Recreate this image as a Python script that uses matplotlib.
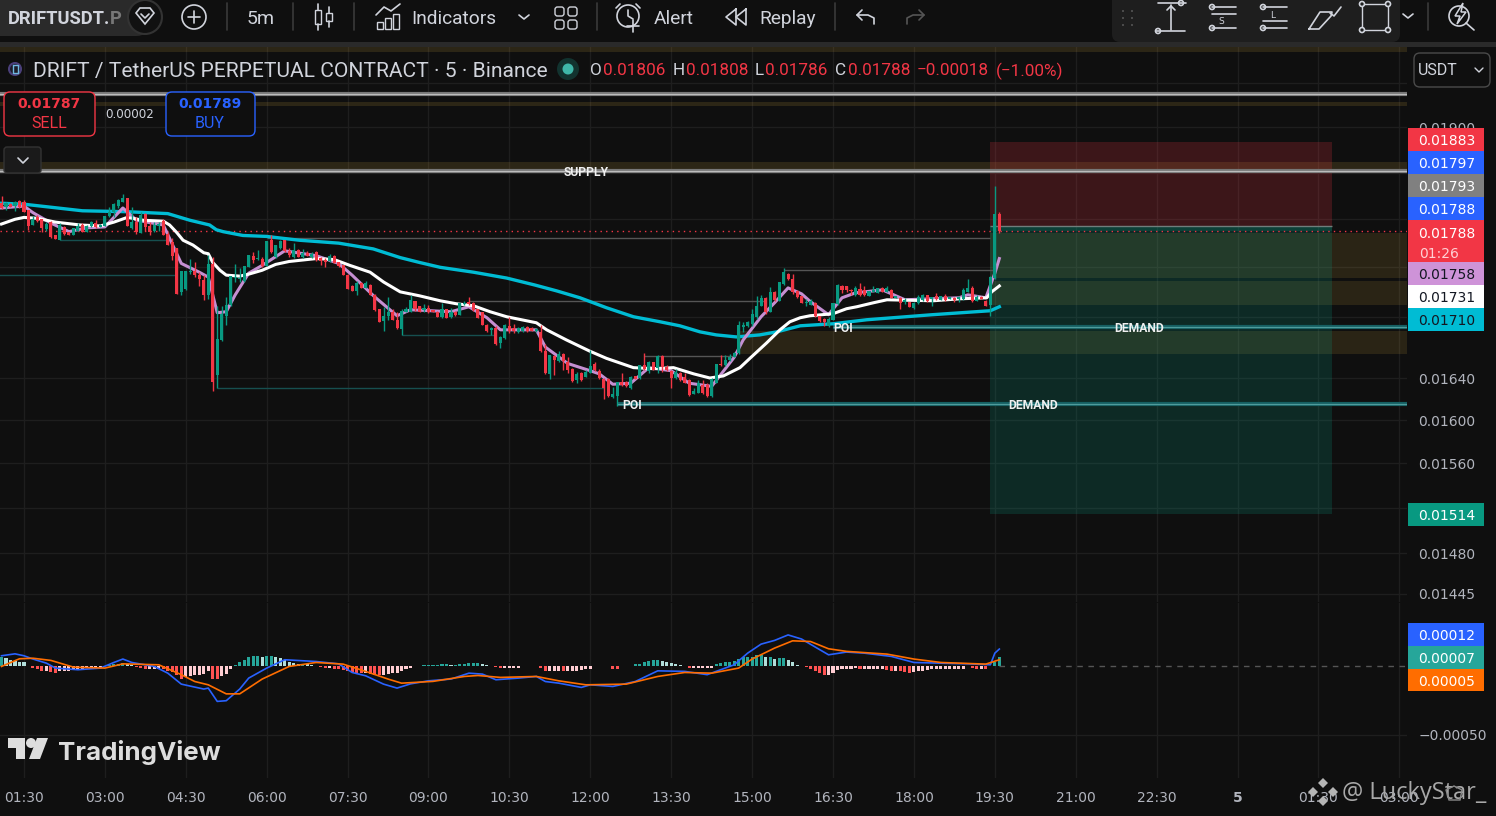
# 5m DRIFTUSDT.P chart screenshot, price pane + MACD pane
import numpy as np
import matplotlib
matplotlib.use('Agg')
import matplotlib.pyplot as plt
from matplotlib.patches import FancyBboxPatch, Rectangle, Circle, Polygon
from matplotlib.ticker import NullLocator

# candles, in units of 0.00001 USDT, first bar 01:05, one bar per 5 minutes
opens = [1817,1813,1816,1814,1819,1818,1810,1794,1802,1800,1790,1797,1783,1778,1792,1787,1784,1788,1794,1787,
         1793,1796,1792,1793,1803,1808,1814,1818,1823,1791,1797,1786,1806,1793,1788,1793,1798,1785,1776,1770,
         1725,1728,1745,1746,1742,1737,1722,1753,1643,1677,1701,1712,1739,1738,1736,1750,1762,1759,1759,1751,
         1778,1761,1770,1778,1767,1761,1768,1761,1765,1761,1766,1760,1758,1756,1762,1755,1752,1742,1731,1726,
         1734,1729,1732,1722,1708,1696,1701,1705,1697,1688,1705,1705,1716,1711,1707,1709,1707,1705,1700,1708,
         1700,1705,1702,1713,1715,1714,1708,1705,1692,1687,1689,1674,1679,1691,1689,1685,1686,1690,1689,1686,
         1685,1666,1644,1661,1656,1663,1655,1649,1638,1645,1641,1645,1654,1647,1639,1639,1622,1623,1636,1636,
         1630,1642,1640,1653,1647,1655,1650,1661,1651,1647,1640,1645,1641,1638,1625,1626,1633,1633,1623,1635,
         1654,1653,1657,1660,1664,1690,1691,1693,1700,1711,1719,1705,1725,1716,1733,1743,1738,1726,1721,1714,
         1712,1714,1701,1698,1691,1697,1713,1731,1731,1727,1722,1728,1727,1721,1725,1724,1729,1725,1727,1719,
         1719,1715,1715,1709,1714,1717,1722,1718,1721,1717,1721,1718,1719,1718,1718,1725,1729,1716,1720,1716,
         1712,1739,1806]
highs = [1825,1818,1817,1819,1820,1820,1810,1803,1805,1800,1797,1798,1784,1796,1793,1787,1791,1796,1796,1794,
         1798,1799,1795,1804,1813,1817,1822,1827,1823,1813,1802,1808,1807,1797,1797,1797,1800,1787,1780,1770,
         1746,1746,1759,1755,1745,1742,1763,1761,1711,1711,1720,1741,1753,1749,1751,1763,1766,1768,1761,1777,
         1783,1773,1778,1778,1770,1775,1769,1769,1767,1766,1767,1761,1760,1764,1763,1755,1752,1743,1732,1736,
         1735,1736,1733,1723,1708,1710,1720,1708,1705,1708,1710,1722,1716,1711,1713,1712,1707,1706,1714,1708,
         1709,1706,1714,1716,1720,1715,1708,1705,1693,1690,1691,1681,1693,1700,1693,1690,1691,1691,1690,1689,
         1692,1673,1662,1662,1666,1664,1660,1650,1646,1646,1648,1667,1655,1649,1640,1640,1631,1636,1645,1637,
         1642,1642,1653,1664,1656,1655,1662,1662,1653,1648,1649,1646,1645,1639,1630,1638,1638,1635,1640,1654,
         1662,1662,1663,1665,1696,1695,1696,1708,1721,1722,1720,1730,1726,1735,1749,1744,1743,1727,1721,1718,
         1718,1715,1701,1699,1700,1714,1733,1732,1731,1728,1731,1734,1731,1726,1731,1729,1730,1731,1728,1721,
         1720,1719,1715,1715,1722,1723,1722,1720,1724,1721,1723,1720,1720,1721,1729,1738,1731,1722,1721,1717,
         1741,1835,1808]
lows = [1811,1810,1813,1809,1812,1808,1789,1794,1797,1787,1788,1780,1779,1778,1783,1783,1784,1788,1787,1787,
        1792,1791,1792,1793,1802,1802,1812,1818,1793,1790,1785,1786,1788,1783,1787,1788,1783,1773,1758,1723,
        1722,1727,1743,1740,1731,1717,1718,1628,1630,1676,1692,1711,1735,1735,1735,1750,1754,1758,1750,1751,
        1765,1760,1769,1766,1761,1760,1761,1760,1762,1760,1756,1752,1750,1755,1754,1750,1742,1728,1726,1722,
        1729,1729,1722,1706,1695,1686,1697,1697,1688,1682,1705,1705,1706,1705,1705,1704,1705,1700,1699,1699,
        1699,1701,1702,1712,1712,1706,1699,1692,1685,1682,1672,1669,1678,1684,1684,1684,1685,1685,1686,1685,
        1665,1644,1639,1643,1655,1648,1645,1636,1635,1637,1641,1645,1647,1639,1620,1622,1621,1613,1632,1631,
        1629,1639,1639,1648,1645,1648,1645,1646,1647,1630,1639,1637,1635,1623,1625,1626,1625,1622,1622,1635,
        1652,1652,1656,1660,1663,1685,1690,1691,1698,1711,1703,1705,1716,1716,1732,1737,1723,1719,1714,1711,
        1712,1700,1695,1691,1690,1697,1712,1724,1725,1722,1721,1721,1721,1721,1725,1724,1725,1725,1719,1719,
        1708,1713,1710,1708,1713,1716,1715,1711,1717,1717,1716,1718,1715,1715,1717,1725,1715,1716,1718,1711,
        1701,1738,1786]
closes = [1812,1817,1813,1818,1813,1808,1793,1800,1798,1791,1795,1781,1779,1794,1785,1783,1791,1793,1787,1793,
          1797,1792,1794,1803,1808,1816,1821,1823,1793,1797,1787,1805,1792,1787,1794,1795,1784,1773,1762,1723,
          1746,1746,1746,1742,1738,1722,1753,1636,1678,1703,1712,1741,1740,1739,1751,1763,1758,1760,1751,1777,
          1766,1773,1777,1767,1763,1768,1761,1765,1762,1764,1758,1757,1755,1762,1754,1751,1742,1728,1726,1734,
          1729,1734,1722,1707,1695,1701,1705,1697,1689,1706,1708,1717,1708,1705,1709,1705,1705,1700,1708,1699,
          1705,1702,1714,1714,1713,1707,1699,1692,1686,1689,1673,1680,1692,1686,1686,1689,1690,1686,1686,1688,
          1666,1645,1662,1657,1663,1656,1648,1637,1644,1638,1646,1652,1648,1640,1630,1623,1625,1636,1633,1632,
          1641,1639,1653,1649,1655,1648,1661,1651,1648,1640,1646,1638,1635,1624,1628,1635,1626,1623,1639,1654,
          1653,1657,1660,1664,1692,1692,1695,1703,1711,1719,1705,1725,1717,1735,1745,1738,1725,1720,1714,1715,
          1716,1701,1696,1695,1698,1714,1732,1727,1727,1726,1729,1722,1722,1726,1727,1729,1725,1729,1719,1721,
          1714,1717,1710,1714,1720,1722,1716,1720,1718,1721,1717,1720,1717,1720,1727,1729,1716,1720,1718,1711,
          1740,1806,1788]

# moving averages, read at the bars where they bend (bar index, price in 0.00001)
ema_fast_idx = [0,5,7,11,15,19,23,27,30,36,40,44,46,48,50,52,55,58,63,70,75,78,83,88,91,100,104,108,111,119,
                121,126,131,133,136,140,144,149,153,158,163,165,169,172,175,178,180,184,187,190,196,201,213,215,219,221,222]
ema_fast = [1812,1814,1807,1796,1787,1791,1792,1812,1799,1794,1754,1745,1740,1704,1705,1722,1744,1752,1767,1762,1754,1742,1720,1701,1707,1705,1710,1699,1687,1687,
            1670,1654,1647,1644,1634,1635,1650,1647,1635,1632,1660,1677,1700,1714,1729,1723,1715,1702,1719,1724,1727,1717,1719,1722,1719,1744,1759]
ema_mid_idx = [0,3,5,8,12,17.5,22,25,28,31.5,36,37.4,39,40.4,42.6,45,46,47,48.6,50,53,55,58,61,64,70,74,77.5,
               82,85,88.7,93,97.6,101.2,105,108.7,112.4,119,121.3,125.7,130.9,134.6,140.6,145,149.5,154,157.6,160.6,164.3,
               166.5,170.2,173.2,175.4,177.7,179.9,185,188,190.3,194,197,207.3,213.3,219.2,220.3,222]
ema_mid = [1795,1800,1802,1801,1797,1794,1793,1797,1802,1799,1798,1794,1786,1778,1773,1765,1764,1755,1747,1742,1741,1743,1747,1753,1756,1759,1758,1752,
           1745,1735,1725,1721,1716,1713,1711,1705,1700,1694,1687,1677,1666,1659,1650,1649,1650,1644,1640,1642,1650,
           1659,1674,1687,1695,1699,1701,1703,1708,1710,1714,1717,1716,1718,1719,1725,1731]
ema_slow_idx = [0,5,18,28,37,41.9,46.3,47.8,49.3,53.7,59,66.3,75,82.7,88.7,93,97.6,105,112.4,118.6,123.5,128.7,134.6,140.6,146.5,150.9,155.4,159,163.5,
                168.7,172.5,177.7,185,192.5,207,220,222]
ema_slow = [1817,1816,1809,1808,1806,1799,1794,1789,1787,1783,1782,1778,1775,1769,1760,1755,1750,1745,1739,1732,1726,1719,1709,1700,1695,1691,1685,1682,1680,
            1682,1685,1691,1693,1697,1702,1706,1710]

# macd pane, units of 0.00001
hist = [7,6,5,4,3.5,3,0.2,-1,-2,-3,-3,-4,-4.5,-3.5,-3.5,-3,-2,-1.5,-1.5,-1,-1,-1,-0.5,0.5,1,1.5,2,2.5,1.5,1,
        -0.5,-1,-1.5,-1.5,-1.5,-1.5,-2,-3,-4,-6.5,-9,-7.5,-7,-6.5,-6,-5.5,-3.5,-9,-9.5,-7,-5.5,-2,1,3,5,7,7.5,7.5,7,7.5,
        7.5,7,6.5,5,3.5,2.5,2,2,1.5,1,0.5,-0.5,-1,-1,-1.5,-2,-2.5,-3.5,-4,-4.5,-5,-5,-5.5,-6,-6.5,-6,-5.5,-5,-5,-3,
        -2,-1,0.3,0.5,0.7,1,1,1,1.5,1.5,1,1,1.5,2,2.5,2.5,2.5,2,1,0.5,-0.5,-1,-1,-1,-1,-1,0.3,0.3,0.3,0.3,
        -1,-3,-3,-3,-3,-3.5,-3.5,-3,-3,-2.5,-2,-1.5,0.2,0.2,0.3,0.3,-1.5,-2,0.3,0.3,0.5,1.5,2,3,4,4.5,4.5,4,3,2.5,
        1.5,1,0.5,-1,-1,-1,-1,-1,-1,1.5,2.5,3,3.5,4,5.5,7,7,7,8,8,7,7,5.5,6,6.5,5,3.5,1,0.5,-0.5,
        -2,-3,-5,-6,-6,-5,-2.5,-2,-2,-1.5,-1,-2,-2,-2,-2,-2,-2,-2.5,-3,-3,-3.5,-4,-4.5,-4,-3.5,-3,-2.5,-2,-2,-2,
        -2,-2,-2,-2,-1.5,0.5,-1,-1.5,-1.5,-2,0.5,3,7]
macd_idx = [0,3,5,7,10,12,17,22,25,27,29,34,37,40,45,46,48,50,53,55,59,63,70,75,78,81,85,88,91,95,100,104,107,110,115,
            119,121,124,129,131,136,141,146,152,157,163,166,169,172,175,178,184,188,192,198,203,215,220,221,222]
macd_line = [7.8,9.2,7.8,5.4,2.4,-1.2,-2.4,-1.2,2.9,5.4,2.9,0,-4.9,-12.9,-16.5,-15.8,-25.5,-25,-16.5,-8.5,-1.2,4.9,3.6,1.9,-4.4,-6.8,-12.9,-15.8,-12.7,-10.5,-9.2,-4.9,-5.6,-9.7,-8.5,
             -7.3,-11,-12.2,-15.3,-13.4,-14.6,-11,-3.2,-3.6,-6,1.2,9.7,16.3,19,23,20,8.5,10.5,9.7,7.3,2.9,1.9,1.2,9.7,12.7]
signal_idx = [0,4,7,11,16,23,27,35,40,43,46,50,53,58,64,70,76,81,86,89,96,103,106,111,119,124,130,139,146,152,158,164,167,172,176,180,184,188,197,203,209,219,222]
signal_line = [0,5.6,6,4.4,-0.5,-1.2,1.9,1.2,-6,-11,-13.4,-20,-20,-9.2,0,2.9,1.7,-3.6,-9.2,-12.2,-10.9,-7.3,-6.6,-8,-7.3,-10.5,-13.4,-12.9,-7.3,-4.4,-4.9,-1.2,5.4,13.4,18.7,18.2,12.9,11,9,5.4,2.9,1.7,4.9]

# horizontal levels drawn on the chart (price, first bar, last bar)
teal_levels = [(1778,13,37),(1742,-1,39),(1630,48,134),(1682,89,110)]
grey_levels = [(1780,59,220),(1716,104,170),(1661,143,163),(1747,174,221)]
gold_bands = [(1985.6,1991),(1923.6,1928),(1851,1861)]
gold_zones = [(1739,1785.6,220),(1712,1736,220),(1663,1686,164)]

entry, stop, target, last = 0.01793, 0.01883, 0.01514, 0.01788
box_start, box_end = 220, 296

time_labels = ['01:30','03:00','04:30','06:00','07:30','09:00','10:30','12:00','13:30',
               '15:00','16:30','18:00','19:30','21:00','22:30','5','01:30','03:00']
price_grid = [0.0195,0.0190,0.0185,0.0180,0.0175,0.0170,0.0164,0.0160,0.0156,0.0152,0.0148,0.01445]
price_labels = ['','0.01900','','','','','0.01640','0.01600','0.01560','0.01520','0.01480','0.01445']

bg = '#0f0f0f'
grid = '#1e1e1e'
up, down = '#089981', '#f23645'
tick_col = '#b2b5be'
narrow = ['Roboto','DejaVu Sans']

plt.rcParams['font.family'] = ['DejaVu Sans']
W, H = 1496, 816
fig = plt.figure(figsize=(W/100,H/100),dpi=100,facecolor=bg)

def pane(top,bottom):
    return fig.add_axes([0,1-bottom/H,1407/W,(bottom-top)/H],facecolor=bg)

ax = pane(44,602)
am = pane(603,778)
for a in (ax,am):
    for s in a.spines.values(): s.set_visible(False)
    a.set_xlim(-0.334,312.7)
    a.set_xticks(np.arange(5,312,18))
    a.grid(True,color=grid,lw=1)
    a.set_axisbelow(True)
    a.tick_params(length=0)

# ---- price pane
o,h,l,c = [np.array(v)*1e-5 for v in (opens,highs,lows,closes)]
idx = np.arange(len(o))
col = np.where(c>=o,up,down)
ax.set_yscale('log')
ax.set_ylim(0.014381,0.019949)
ax.yaxis.set_minor_locator(NullLocator())
ax.set_yticks(price_grid)
ax.set_yticklabels(price_labels,color=tick_col,fontsize=10)
ax.yaxis.tick_right()
ax.tick_params(axis='y',pad=8,length=0)
ax.set_xticklabels([])

for lo,hi in gold_bands:
    ax.axhspan(lo*1e-5,hi*1e-5,color='#c8a03c',alpha=0.16,lw=0)
for lo,hi,start in gold_zones:
    ax.fill_between([start,312.7],lo*1e-5,hi*1e-5,color='#c8a03c',alpha=0.15,lw=0)
ax.fill_between([box_start,box_end],entry,stop,color=down,alpha=0.2,lw=0)
ax.fill_between([box_start,box_end],target,entry,color=up,alpha=0.2,lw=0)
ax.fill_between([box_start,box_end],last,entry,color=up,alpha=0.2,lw=0)
ax.hlines(entry,box_start,box_end,color='#6f7d7b',lw=1)

for p in (0.01937,0.01852):
    ax.axhline(p,color='#777777',lw=3,zorder=2)
    ax.axhline(p,color='#bcbcbc',lw=0.9,zorder=2)
ax.hlines(0.0169,185,312.7,color='#155f62',lw=3,zorder=2)
ax.hlines(0.0169,185,312.7,color='#4f9c9c',lw=0.9,zorder=2)
ax.hlines(0.01615,137,312.7,color='#155f62',lw=3,zorder=2)
ax.hlines(0.01615,137,312.7,color='#4f9c9c',lw=0.9,zorder=2)
for p,a0,a1 in teal_levels:
    ax.hlines(p*1e-5,a0,a1,color='#164f4f',lw=1,zorder=2)
for p,a0,a1 in grey_levels:
    ax.hlines(p*1e-5,a0,a1,color='#555555',lw=1,zorder=2)
ax.axhline(last,color=down,lw=1,ls=(0,(1,3)),zorder=2)

# averages sit under the candles here
ax.plot(ema_slow_idx,np.array(ema_slow)*1e-5,color='#00bcd4',lw=2.4,zorder=2.4)
ax.plot(ema_fast_idx,np.array(ema_fast)*1e-5,color='#c58fd2',lw=2.2,zorder=2.5)
ax.plot(ema_mid_idx,np.array(ema_mid)*1e-5,color='#ffffff',lw=2.2,zorder=2.6)
ax.vlines(idx,l,h,color=col,lw=1,zorder=3)
ax.bar(idx,np.maximum(np.abs(c-o),1e-5),bottom=np.minimum(o,c),width=0.68,color=col,zorder=3)

txt = dict(color='#f0f0f0',fontsize=8.7,ha='center',va='center_baseline',family=narrow,zorder=6,fontweight='bold')
ax.text(130,0.01852,'SUPPLY',**txt)
ax.text(253,0.0169,'DEMAND',**txt)
ax.text(229.5,0.01615,'DEMAND',**txt)
ax.text(140.3,0.01615,'POI',**txt)
ax.text(187.3,0.0169,'POI',**txt)

# ---- macd pane
hv = np.array(hist)
hc = []
for k,v in enumerate(hv):
    prev = hv[k-1] if k>0 else v
    if v>=0: hc.append('#26a69a' if v>=prev else '#b2dfdb')
    else: hc.append('#ff5252' if v<prev else '#ffcdd2')
am.bar(np.arange(len(hv)),hv*1e-5,width=0.68,color=hc,zorder=2)
am.plot(macd_idx,np.array(macd_line)*1e-5,color='#2962ff',lw=1.2,zorder=3)
am.plot(signal_idx,np.array(signal_line)*1e-5,color='#ff6d00',lw=1.2,zorder=4)
am.hlines(0,222,312.7,color='#555555',lw=1,ls=(0,(4,4)))
am.set_ylim(-0.000814,0.000463)
am.set_yticks([-0.0005])
am.set_yticklabels(['\u22120.00050'],color=tick_col,fontsize=10)
am.yaxis.tick_right()
am.tick_params(axis='y',pad=8)
am.set_xticklabels(time_labels,color=tick_col,fontsize=10)
am.tick_params(axis='x',pad=9)
am.get_xticklabels()[15].set_fontweight('bold')

# ---- screen furniture drawn in pixel coordinates
ov = fig.add_axes([0,0,1,1],facecolor='none')
ov.set_xlim(0,W); ov.set_ylim(H,0); ov.axis('off')

def box(x0,y0,x1,y1,fc,ec='none',r=0,lw=1,z=2):
    if r:
        ov.add_patch(FancyBboxPatch((x0+r,y0+r),x1-x0-2*r,y1-y0-2*r,boxstyle='round,pad=%g'%r,fc=fc,ec=ec,lw=lw,zorder=z))
    else:
        ov.add_patch(Rectangle((x0,y0),x1-x0,y1-y0,fc=fc,ec=ec,lw=lw,zorder=z))

def seg(xs,ys,c='#d1d4dc',lw=1.2,z=5):
    ov.plot(xs,ys,color=c,lw=lw,zorder=z,solid_capstyle='round')

def ring(x,y,r,c='#d1d4dc',lw=1.2,z=5,fc='none'):
    ov.add_patch(Circle((x,y),r,fc=fc,ec=c,lw=lw,zorder=z))

def label(x,y,s,c='#d1d4dc',fs=14,ha='left',fam=narrow,w='normal',z=6):
    ov.text(x,y,s,color=c,fontsize=fs,ha=ha,va='center_baseline',family=fam,fontweight=w,zorder=z)

# top toolbar
box(0,0,W,42,bg)
box(0,42,W,47,'#2a2a2a')
box(-20,-10,150,36,'#2a2a2a',r=14)
ring(145,17,17,c='#333333',lw=1.5,fc='#111111',z=3)
label(8,17,'DRIFTUSDT.',fs=13.2,w='bold')
label(110,17,'P',c='#777777',fs=13.2,w='bold')
ov.add_patch(Polygon([(136,13),(140,8),(150,8),(154,13),(145,24)],fc='none',ec='#d1d4dc',lw=1.2,zorder=5))
seg([141,145,149],[14,18,14])
ring(194,17,12)
seg([188,200],[17,17]); seg([194,194],[11,23])
seg([227,227],[3,30],c='#3a3a3a')
label(247,17,'5m',fs=14)
seg([293,293],[3,30],c='#3a3a3a')
box(315,10,321,24,'none',ec='#d1d4dc',z=5); seg([318,318],[4,10]); seg([318,318],[24,30])
box(326,13,332,21,'none',ec='#d1d4dc',z=5); seg([329,329],[7,13]); seg([329,329],[21,27])
seg([354,354],[3,30],c='#3a3a3a')
for bx,bt in ((377,22),(385,18),(393,14)):
    box(bx,bt,bx+6,29,'none',ec='#d1d4dc',z=5)
seg([376,384,391,400],[15,7,11,4])
label(411,17,'Indicators',fs=13.8)
seg([519,524,529],[15,19,15])
for gx,gy in ((555,7),(568,7),(555,20),(568,20)):
    box(gx,gy,gx+9,gy+9,'none',ec='#d1d4dc',r=2.5,z=5)
seg([597,597],[3,30],c='#3a3a3a')
ring(628,16,11); seg([628,628,633],[10,16,19]); seg([616,620],[8,4]); seg([636,640],[4,8])
box(626,20,640,32,bg,z=4); seg([627,639],[26,26]); seg([633,633],[20,32])
label(654,17,'Alert',fs=13.8)
for rx in (726,736):
    seg([rx+10,rx,rx+10,rx+10],[9,17,25,9])
label(759,17,'Replay',fs=13.8)
seg([835,835],[3,30],c='#3a3a3a')
seg([862,857,862],[10,15,20]); seg([857,868,874,874],[15,15,18,24])
seg([919,924,919],[10,15,20],c='#555555'); seg([924,913,907,907],[15,15,18,24],c='#555555')

# drawing tools panel
box(1112,-10,1400,42,'#1e1e1e',r=8,z=3)
for dx in (1122,1131):
    for dy in (10,17,24):
        box(dx,dy,dx+2,dy+2,'#4a4a4a',z=5)
seg([1158,1186],[3,3]); ring(1181,3,2.5); seg([1171,1171],[5,30]); seg([1167,1171,1175],[10,6,10])
seg([1156,1185],[31,31]); ring(1158,31,2.5)
for ty,has_c in ((7,1),(14,0),(28,1)):
    seg([1212,1236],[ty,ty])
    if has_c: ring(1212,ty,2.5)
label(1221,21,'S',fs=6.5,fam=['DejaVu Sans'],ha='center')
for ty,has_c in ((7,1),(21,0),(28,1)):
    seg([1263,1287],[ty,ty])
    if has_c: ring(1263,ty,2.5)
label(1273,14,'L',fs=6.5,fam=['DejaVu Sans'],ha='center')
seg([1309,1319,1331,1332,1320,1309],[29,29,16,12,12,29]); seg([1330,1334,1341],[13,16,7])
box(1362,4,1388,30,'none',ec='#d1d4dc',z=5)
for cx,cy in ((1362,4),(1388,4),(1362,30),(1388,30)):
    ring(cx,cy,2.5,fc='#1e1e1e')
seg([1403,1408,1413],[14,18,14])
seg([1428,1428],[3,30],c='#3a3a3a')
ring(1459,16,10); seg([1466,1474],[23,30])
ov.add_patch(Polygon([(1463,3),(1455,16),(1460,16),(1457,24),(1466,12),(1461,12)],fc='#0f0f0f',ec='#d1d4dc',lw=1.1,zorder=6))

# symbol line
ring(15,69,6,c='#4a3f7a',lw=1.5,fc='#1c1c28')
seg([13,18,18,13,13],[65,65,73,73,65],c='#6fb7e0',lw=1)
label(33,69,'DRIFT / TetherUS PERPETUAL CONTRACT \u00b7 5 \u00b7 Binance',fs=15.1)
ring(568,69,11,c='none',fc='#12332f',lw=0)
ring(568,69,5.5,c='none',fc='#3fb6a8',lw=0)
xpos = [(590,'O','#d1d4dc'),(603,'0.01806',down),(673,'H','#d1d4dc'),(686,'0.01808',down),(755,'L','#d1d4dc'),
        (765,'0.01786',down),(835,'C','#d1d4dc'),(848,'0.01788',down),(917,'\u22120.00018',down),(996,'(\u22121.00%)',down)]
for tx,s,cc in xpos:
    label(tx,69,s,c=cc,fs=12.3)

# sell and buy boxes
box(4,92,95,136,bg,ec=down,r=6)
label(49,103,'0.01787',c=down,fs=10,ha='center',fam=['DejaVu Sans'],w='bold')
label(49,122,'SELL',c=down,fs=11.5,ha='center')
box(166,92,255,136,bg,ec='#2962ff',r=6)
label(210,103,'0.01789',c='#2962ff',fs=10,ha='center',fam=['DejaVu Sans'],w='bold')
label(210,122,'BUY',c='#2962ff',fs=11.5,ha='center')
label(130,113,'0.00002',fs=8.6,ha='center',fam=['DejaVu Sans'])
box(4,147,41,173,'#1a1a1a',ec='#333333',r=3,z=3)
seg([18,23,28],[158,163,158])
box(1414,53,1490,87,bg,ec='#4a4a4a',r=6)
label(1418,69,'USDT',fs=11.5)
seg([1475,1479,1483],[68,72,68],lw=1)

# price tags on the right
tags = [('0.01883',128,151,down,'#ffffff'),('0.01797',151,174,'#2962ff','#ffffff'),('0.01793',174,197,'#808080','#ffffff'),
        ('0.01788',197,220,'#2962ff','#ffffff'),('0.01758',262,285,'#ce93d8','#131722'),('0.01731',285,308,'#ffffff','#131722'),
        ('0.01710',308,331,'#00bcd4','#131722'),('0.01514',503,526,up,'#ffffff'),('0.00012',623,646,'#2962ff','#ffffff'),
        ('0.00007',646,669,'#26a69a','#ffffff'),('0.00005',669,691,'#ff6d00','#ffffff')]
for s,t0,t1,fc,tc in tags:
    box(1408,t0,1484,t1,fc,z=3)
    label(1447,(t0+t1)/2,s,c=tc,fs=10,ha='center',fam=['DejaVu Sans'])
box(1408,220,1484,262,down,z=3)
label(1447,232,'0.01788',c='#ffffff',fs=10,ha='center',fam=['DejaVu Sans'])
label(1419,252,'01:26',c='#ffd0d4',fs=10,fam=['DejaVu Sans'])

# TradingView logo
ov.add_patch(Polygon([(8,738),(25,738),(25,759),(16,759),(16,748),(8,748)],fc='#dddddd',zorder=5))
ring(31,743,5,c='none',fc='#dddddd',lw=0)
ov.add_patch(Polygon([(37,738),(48,738),(40,759),(29,759)],fc='#dddddd',zorder=5))
label(58,750,'TradingView',c='#dddddd',fs=18.7,fam=['Inter','DejaVu Sans'],w='bold')

# watermark
label(1342,790,'@ LuckyStar_',c='#a8a8a8',fs=17,fam=['Open Sans','DejaVu Sans'])
for wx,wy in ((1323,783),(1313,792),(1333,792),(1323,801)):
    ov.add_patch(Polygon([(wx,wy-5),(wx+5,wy),(wx,wy+5),(wx-5,wy)],fc='#b5b5b5',zorder=6))
ov.add_patch(Polygon([(1454,786),(1462,790),(1460,800),(1449,800),(1446,790)],fc='none',ec='#8a8a8a',lw=1,zorder=6))

fig.savefig('out.png',dpi=100,facecolor=bg)
